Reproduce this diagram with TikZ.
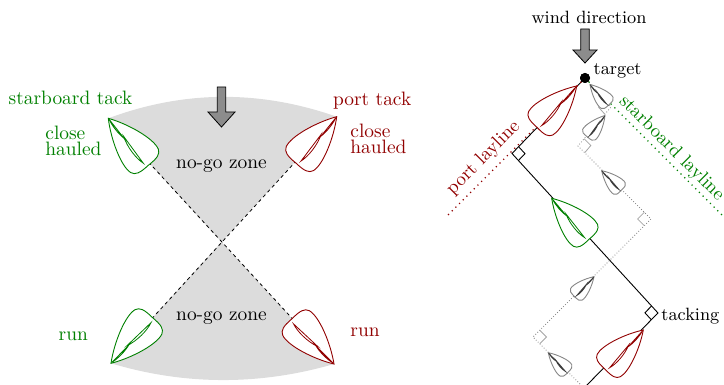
\documentclass[tikz,border=0pt]{standalone}
\usepackage{fontspec}
\usetikzlibrary{calc}
\definecolor{sgreen}{RGB}{0,128,0}
\definecolor{pred}{RGB}{145,0,0}
\definecolor{zonegray}{RGB}{220,220,220}
\definecolor{arrowgray}{RGB}{140,140,140}
\definecolor{ghost}{RGB}{135,135,135}
\definecolor{ghostsail}{RGB}{60,60,60}
\definecolor{ghostmark}{RGB}{165,165,165}
% #1 bow, #2 angle, #3 scale, #4 hull colour, #5 sail colour, #6 sail side
\newcommand{\drawboat}[6]{%
  \begin{scope}[shift={(#1)},rotate=#2,scale=#3]
    \draw[#4,fill=white,line width=0.45pt] (0,0) .. controls (-18,12) and (-46,22) .. (-57,18.5)
      .. controls (-62,16.5) and (-63.5,12) .. (-63,0)
      .. controls (-63.5,-12) and (-62,-16.5) .. (-57,-18.5)
      .. controls (-46,-22) and (-18,-12) .. cycle;
    \draw[#5,line width=0.4pt] (-1,0) .. controls (-9,#6*2.2) and (-19,#6*2.4) .. (-26,#6*1) -- cycle;
    \draw[#5,line width=0.4pt] (-24,0) .. controls (-35,#6*4.5) and (-50,#6*5) .. (-58,#6*2.5) -- cycle;
  \end{scope}}
% right-angle mark: #1 style, #2 vertex, #3 and #4 neighbours
\newcommand{\rmark}[4]{%
  \draw[#1] let \p1=($(#2)!4.75pt!(#3)$), \p2=($(#2)!4.75pt!(#4)$), \p0=(#2) in
    (\p1) -- (\x1+\x2-\x0,\y1+\y2-\y0) -- (\p2);}
\tikzset{
  lt/.style={inner sep=0pt,font=\fontsize{9.7}{11}\selectfont},
  rt/.style={inner sep=0pt,font=\fontsize{8.9}{10}\selectfont},
  lab/.style={inner sep=0pt,font=\fontsize{9.5}{11}\selectfont},
  zone/.style={fill=zonegray},
  sightline/.style={dash pattern=on 1.7pt off 1.6pt,line width=0.4pt},
  blockarrow/.style={draw=black,fill=arrowgray,line width=0.4pt},
  layline/.style={dotted,line width=0.6pt},
  tackpath/.style={line width=0.45pt},
  ghostpath/.style={ghost,densely dotted,line width=0.4pt},
}
\begin{document}
\begin{tikzpicture}[x=0.5pt,y=-0.5pt]
\useasboundingbox (0,0) rectangle (724,385);
\clip (0,0) rectangle (724,385);
% ---------------- left diagram ----------------
\coordinate (C) at (221.5,242);
\coordinate (UL) at (108.3,118.3);
\coordinate (UR) at (336.7,116.7);
\coordinate (LL) at (111,363.3);
\coordinate (LR) at (334,364);
\fill[zone] (C) -- (UL) .. controls (184.5,90) and (260.5,90) .. (UR) -- cycle;
\fill[zone] (C) -- (LL) .. controls (185,385.5) and (260,385.5) .. (LR) -- cycle;
\draw[sightline] (UL) -- (LR);
\draw[sightline] (UR) -- (LL);
\draw[blockarrow] (217.3,87) -- (225.7,87) -- (225.7,112) -- (235,112) -- (221.5,127) -- (208,112) -- (217.3,112) -- cycle;
\drawboat{108.3,118.3}{130.4}{0.98}{sgreen}{sgreen}{-1}
\drawboat{336.7,116.7}{48.7}{0.98}{pred}{pred}{1}
\drawboat{111,363.3}{227.9}{0.98}{sgreen}{sgreen}{-1}
\drawboat{334,364}{312.8}{0.98}{pred}{pred}{1}
\node[lt,sgreen,anchor=base west] (stbtack) at (8.3,105) {starboard tack};
\node[lt,sgreen,anchor=base west] (gclose) at (45,140) {close};
\node[lt,sgreen,anchor=base west] (ghauled) at (45,156) {hauled};
\node[lt,pred,anchor=base west] (porttack) at (332.7,106) {port tack};
\node[lt,pred,anchor=base west] (rclose) at (350,137.3) {close};
\node[lt,pred,anchor=base west] (rhauled) at (350,154) {hauled};
\node[lt,anchor=base] (zone1) at (221.5,168.3) {no-go zone};
\node[lt,anchor=base] (zone2) at (221.5,320.7) {no-go zone};
\node[lt,sgreen,anchor=base west] (grun) at (58.3,341) {run};
\node[lt,pred,anchor=base west] (rrun) at (350,336) {run};
% ---------------- right diagram ----------------
\node[circle,fill=black,inner sep=0pt,minimum size=5pt] (T) at (585,78) {};
\coordinate (V1) at (512,153.5);
\coordinate (V2) at (658,313);
\coordinate (S) at (584,388);
\coordinate (P1) at (611,107);
\coordinate (P2) at (578,146);
\coordinate (P3) at (651,219);
\coordinate (P4) at (533,337);
\coordinate (PLend) at (446,217);
\coordinate (SLend) at (750,243);
\draw[tackpath] (S) -- (V2) -- (V1) -- (T.center);
\draw[ghostpath] (S) -- (P4) -- (P3) -- (P2) -- (P1) -- (T.center);
\draw[layline,pred] (T.center) -- (PLend);
\draw[layline,sgreen] (T.center) -- (SLend);
\rmark{black,line width=0.45pt}{V1}{T}{V2}
\rmark{black,line width=0.45pt}{V2}{V1}{S}
\rmark{ghostmark,line width=0.4pt}{P1}{T}{P2}
\rmark{ghostmark,line width=0.4pt}{P2}{P1}{P3}
\rmark{ghostmark,line width=0.4pt}{P3}{P2}{P4}
\rmark{ghostmark,line width=0.4pt}{P4}{P3}{S}
\draw[blockarrow] (580.7,29) -- (589.3,29) -- (589.3,50) -- (597,50) -- (585,63) -- (573,50) -- (580.7,50) -- cycle;
\drawboat{590,84.5}{133}{0.44}{ghost}{ghostsail}{-1}
\drawboat{605,115.5}{50}{0.44}{ghost}{ghostsail}{1}
\drawboat{601.7,170.7}{135}{0.44}{ghost}{ghostsail}{-1}
\drawboat{594,276.7}{45}{0.44}{ghost}{ghostsail}{1}
\drawboat{548.3,352.7}{135}{0.44}{ghost}{ghostsail}{-1}
\drawboat{576.7,86}{46}{0.91}{pred}{pred}{1}
\drawboat{551.7,198.3}{132.4}{0.88}{sgreen}{sgreen}{-1}
\drawboat{643.3,330}{45.8}{0.87}{pred}{pred}{1}
\node[circle,fill=black,inner sep=0pt,minimum size=5pt] at (T) {};
\node[rt,anchor=base] (wind) at (589,23.3) {wind direction};
\node[rt,anchor=base west] (tgt) at (593.3,75) {target};
\node[rt,anchor=base west] (tack) at (661,320.7) {tacking};
\node[lab,pred,rotate=45] (pll) at (483.5,158) {port layline};
\node[lab,sgreen,rotate=-45] (sll) at (671.5,148.4) {starboard layline};
\end{tikzpicture}
\end{document}
